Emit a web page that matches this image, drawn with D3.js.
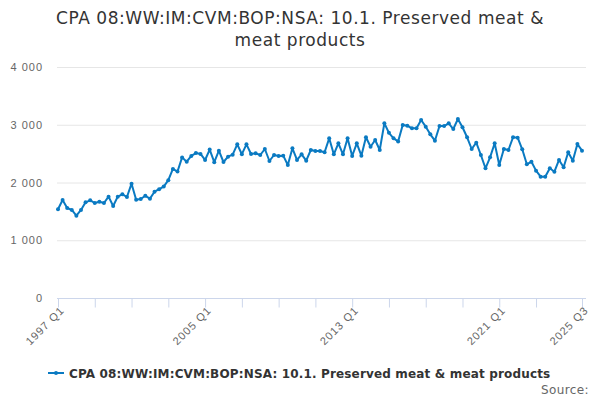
<!DOCTYPE html>
<html>
<head>
<meta charset="utf-8">
<script src="https://cdn.jsdelivr.net/npm/d3@7"></script>
<style>
body { margin:0; background:#fff; }
svg { font-family: "DejaVu Sans", sans-serif; }
.grid line { stroke:#e6e6e6; }
.yaxis text, .xaxis text { fill:#666; font-size:11px; letter-spacing:1px; }
</style>
</head>
<body>
<svg></svg>
<script>
var title = ["CPA 08:WW:IM:CVM:BOP:NSA: 10.1. Preserved meat &", "meat products"]
var seriesName = "CPA 08:WW:IM:CVM:BOP:NSA: 10.1. Preserved meat & meat products"

// quarters 1997 Q1 .. 2025 Q3
var quarters = []
for (var y = 1997; y <= 2025; y++) {
    for (var q = 1; q <= 4; q++) {
        if (y == 2025 && q > 3) break
        quarters.push(y + " Q" + q)
    }
}

var values = [
 1536,1697,1558,1524, 1425,1524,1657,1691, 1645,1668,1645,1755, 1593,1755,1796,1749,
 1980,1700,1715,1770, 1720,1840,1885,1930, 2040,2235,2190,2435, 2360,2460,2510,2495,
 2390,2570,2352,2551, 2355,2447,2482,2661, 2490,2661,2494,2505, 2476,2580,2372,2476,
 2459,2465,2303,2592, 2390,2488,2378,2563, 2545,2545,2523,2765, 2488,2679,2488,2765,
 2459,2679,2465,2783, 2620,2736,2563,3025, 2860,2765,2712,2996, 2984,2938,2938,3082,
 2967,2834,2724,2978, 2978,3025,2926,3100, 2956,2783,2580,2690, 2476,2246,2436,2679,
 2303,2580,2563,2783, 2776,2575,2315,2360, 2205,2100,2100,2246, 2187,2390,2263,2523,
 2378,2667,2551
]

var yTicks = [0, 1000, 2000, 3000, 4000]
var xTickIdx = [0,8,16,24,32,40,48,56,64,72,80,88,96,104,114]
var xLabelIdx = [0,32,64,96,114]

var width = 600, height = 400
var margins = {left:58, right:18, top:67, bottom:102}

var svg = d3.select("svg")
    .attr("width", width)
    .attr("height", height)

var xScale = d3.scaleLinear()
    .domain([0, quarters.length - 1])
    .range([margins.left, width - margins.right])

var yScale = d3.scaleLinear()
    .domain([0, 4000])
    .range([height - margins.bottom, margins.top])

// title
svg.append("g").selectAll("text")
    .data(title)
    .enter()
    .append("text")
    .attr("x", width / 2)
    .attr("y", function(d, i){ return 24 + i * 22 })
    .attr("text-anchor", "middle")
    .attr("fill", "#333")
    .style("font-size", "17px")
    .style("letter-spacing", "0.55px")
    .text(function(d){ return d })

// gridlines
svg.append("g")
    .attr("class", "grid")
    .selectAll("line")
    .data(yTicks.slice(1))
    .enter()
    .append("line")
    .attr("x1", 57)
    .attr("x2", 586)
    .attr("y1", function(d){ return yScale(d) + 0.5 })
    .attr("y2", function(d){ return yScale(d) + 0.5 })

// y axis labels
var fmt = function(d){ return d3.format(",")(d).replace(/,/g, " ") }
var yAxis = d3.axisLeft(yScale).tickValues(yTicks).tickFormat(fmt).tickSize(0).tickPadding(0)
var yg = svg.append("g")
    .attr("class", "yaxis")
    .attr("transform", "translate(43,0)")
    .call(yAxis)
yg.select(".domain").remove()
yg.selectAll("text").attr("dy", "0.32em")

// x axis
var xAxis = d3.axisBottom(xScale)
    .tickValues(xTickIdx)
    .tickSize(9)
    .tickFormat(function(i){ return xLabelIdx.indexOf(i) >= 0 ? quarters[i] : "" })
var xg = svg.append("g")
    .attr("class", "xaxis")
    .attr("transform", "translate(0," + (yScale(0) + 0.5) + ")")
    .call(xAxis)
xg.select(".domain").attr("d", "M57,0H586").attr("stroke", "#ccd6eb")
xg.selectAll(".tick line").attr("stroke", "#ccd6eb")
xg.selectAll(".tick text")
    .attr("text-anchor", "end")
    .attr("transform", "translate(4,10) rotate(-45)")
    .attr("dy", "0.32em")
    .attr("y", 0)

// line
var line = d3.line()
    .x(function(d, i){ return xScale(i) })
    .y(function(d){ return yScale(d) })

svg.append("path")
    .datum(values)
    .attr("fill", "none")
    .attr("stroke", "#0a7ac2")
    .attr("stroke-width", 2)
    .attr("stroke-linejoin", "round")
    .attr("d", line)

svg.append("g").selectAll("circle")
    .data(values)
    .enter()
    .append("circle")
    .attr("cx", function(d, i){ return xScale(i) })
    .attr("cy", function(d){ return yScale(d) })
    .attr("r", 2)
    .attr("fill", "#0a7ac2")

// legend
var lg = svg.append("g").attr("transform", "translate(48,373)")
lg.append("line")
    .attr("x1", 0).attr("x2", 16).attr("y1", 0).attr("y2", 0)
    .attr("stroke", "#0a7ac2").attr("stroke-width", 2)
lg.append("circle").attr("cx", 8).attr("cy", 0).attr("r", 2).attr("fill", "#0a7ac2")
lg.append("text")
    .attr("x", 21)
    .attr("y", 4.5)
    .attr("fill", "#333")
    .style("font-size", "12px")
    .style("letter-spacing", "0.16px")
    .style("font-weight", "bold")
    .text(seriesName)

// credits
svg.append("text")
    .attr("x", 589)
    .attr("y", 394)
    .attr("text-anchor", "end")
    .attr("fill", "#666")
    .style("font-size", "12px")
    .style("letter-spacing", "0.4px")
    .text("Source:")
</script>
</body>
</html>
